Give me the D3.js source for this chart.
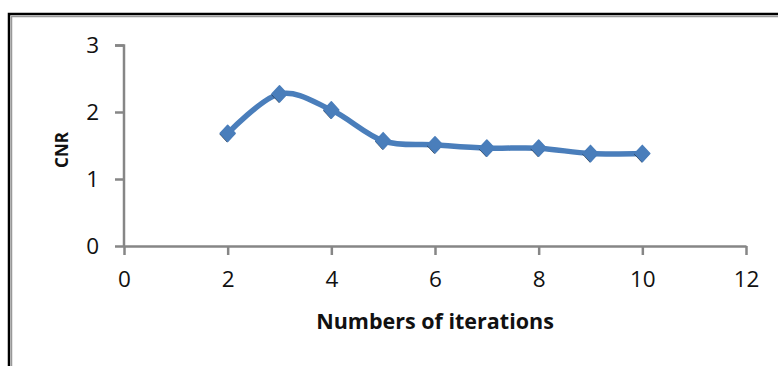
<!DOCTYPE html>
<html><head><meta charset="utf-8">
<script src="https://cdn.jsdelivr.net/npm/d3@7"></script>
<style>body{margin:0;background:#fff}svg{display:block}</style>
</head><body>
<script>
const iterations = [2,3,4,5,6,7,8,9,10];
const cnr = [1.68,2.27,2.03,1.57,1.51,1.46,1.46,1.38,1.38];
const xTicks = [0,2,4,6,8,10,12];
const yTicks = [0,1,2,3];

const W=778,H=366;
const svg=d3.select("body").append("svg").attr("width",W).attr("height",H);
// frame (cropped)
svg.append("path").attr("d","M9,366V14H778").attr("fill","none").attr("stroke","#000").attr("stroke-width",2.5);
svg.append("path").attr("d","M11.5,366V16.5H778").attr("fill","none").attr("stroke","#999").attr("stroke-width",1.5);

const x=d3.scaleLinear().domain([0,12]).range([124,746]);
const y=d3.scaleLinear().domain([0,3]).range([246,45]);
const font="'Open Sans', Lato, sans-serif";
const axisCol="#868686";

const gy=svg.append("g").attr("transform","translate(124,0)")
  .call(d3.axisLeft(y).tickValues(yTicks).tickFormat(d3.format("d")).tickSize(9).tickPadding(16).tickSizeOuter(0));
const gx=svg.append("g").attr("transform","translate(0,246)")
  .call(d3.axisBottom(x).tickValues(xTicks).tickFormat(d3.format("d")).tickSize(9).tickPadding(16).tickSizeOuter(0));
[gx,gy].forEach(g=>{
  g.select(".domain").attr("stroke",axisCol).attr("stroke-width",2.5);
  g.selectAll(".tick line").attr("stroke",axisCol).attr("stroke-width",2.5);
  g.selectAll(".tick text").attr("fill","#111").attr("font-family",font).attr("font-size",22.5);
});
gy.select(".domain").attr("d","M-9,45.5H0V246");

const line=d3.line().x((d,i)=>x(iterations[i])).y(d=>y(d)).curve(d3.curveCardinal.tension(0));
svg.append("path").datum(cnr).attr("d",line).attr("fill","none")
  .attr("stroke","#4a7ebb").attr("stroke-width",5.5).attr("stroke-linecap","round");

const sym=d3.symbol().type(d3.symbolSquare).size(112);
const pts=svg.append("g");
pts.selectAll("path.sh").data(cnr).join("path").attr("class","sh")
  .attr("transform",(d,i)=>`translate(${x(iterations[i])-0.6},${y(d)+0.8}) scale(1,1.08) rotate(45)`)
  .attr("d",sym).attr("fill","#000");
pts.selectAll("path.mk").data(cnr).join("path").attr("class","mk")
  .attr("transform",(d,i)=>`translate(${x(iterations[i])},${y(d)}) scale(1,1.08) rotate(45)`)
  .attr("d",sym).attr("fill","#4a7ebb").attr("stroke","#4a7ebb").attr("stroke-width",1.5).attr("stroke-linejoin","round");

svg.append("text").attr("x",435).attr("y",329).attr("text-anchor","middle")
  .attr("font-family",font).attr("font-weight","bold").attr("font-size",21.5).attr("fill","#111")
  .text("Numbers of iterations");
svg.append("text").attr("transform","translate(68,150) rotate(-90)").attr("text-anchor","middle")
  .attr("font-family",font).attr("font-weight","bold").attr("font-size",17).attr("fill","#111")
  .text("CNR");
</script>
</body></html>
